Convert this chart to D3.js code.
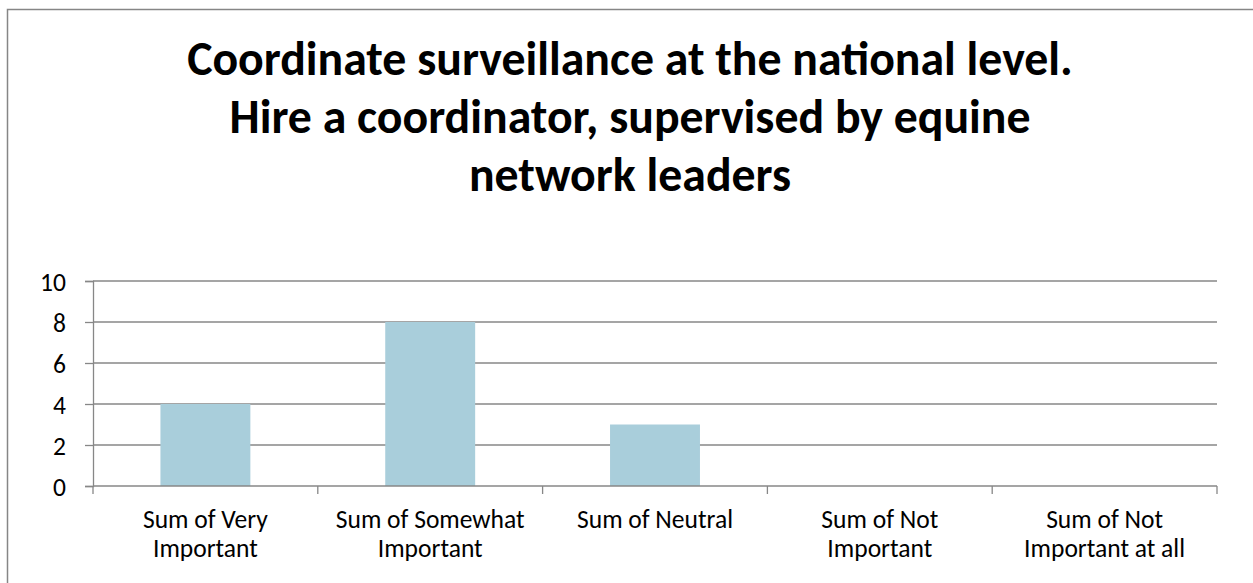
<!DOCTYPE html>
<html>
<head>
<meta charset="utf-8">
<script src="https://cdn.jsdelivr.net/npm/d3@7"></script>
<style>
  body { margin: 0; background: #fff; }
  text { font-family: Carlito, Lato, "Open Sans", sans-serif; }
</style>
</head>
<body>
<div id="chart"></div>
<script>
// chart data
var titleLines = ["Coordinate surveillance at the national level.",
                  "Hire a coordinator, supervised by equine",
                  "network leaders"];
var categories = [["Sum of Very", "Important"],
                  ["Sum of Somewhat", "Important"],
                  ["Sum of Neutral"],
                  ["Sum of Not", "Important"],
                  ["Sum of Not", "Important at all"]];
var values = [4, 8, 3, 0, 0];
var yTicks = [0, 2, 4, 6, 8, 10];

var svgWidth = 1253, svgHeight = 583;
var margin = { top: 281, right: 36, bottom: 97, left: 93 };
var chartWidth = svgWidth - margin.left - margin.right;
var chartHeight = svgHeight - margin.top - margin.bottom;

var svg = d3.select("#chart").append("svg")
    .attr("width", svgWidth)
    .attr("height", svgHeight);

// outer frame
svg.append("rect")
    .attr("x", 7.5).attr("y", 9.5)
    .attr("width", 1260).attr("height", 600)
    .attr("fill", "none")
    .attr("stroke", "#868686")
    .attr("stroke-width", 1.5);

// title
var title = svg.append("text")
    .attr("text-anchor", "middle")
    .attr("font-weight", "bold")
    .attr("font-size", 48)
    .attr("fill", "#000");
var baselines = [75, 133, 191];
titleLines.forEach(function(t, i) {
    title.append("tspan").attr("x", 630).attr("y", baselines[i]).text(t);
});
// fit first line to the reference width
var w0 = title.select("tspan").node().getComputedTextLength();
title.attr("font-size", 48 * 886 / w0);

// label size: fit "Sum of Very" to about 125px
var probe = svg.append("text").attr("font-size", 20).text(categories[0][0]);
var labelSize = 20 * 125 / probe.node().getComputedTextLength();
probe.remove();

var g = svg.append("g")
    .attr("transform", `translate(${margin.left}, ${margin.top})`);

var x = d3.scaleBand()
    .domain(d3.range(categories.length))
    .range([0, chartWidth])
    .paddingInner(0.6)
    .paddingOuter(0.3);

var y = d3.scaleLinear()
    .domain([0, 10])
    .range([chartHeight, 0]);

// gridlines
g.append("g").selectAll("line")
    .data(yTicks.slice(1))
    .enter().append("line")
    .attr("x1", 0).attr("x2", chartWidth)
    .attr("y1", d => y(d)).attr("y2", d => y(d))
    .attr("stroke", "#878787")
    .attr("stroke-width", 1.3);

// bars
g.append("g").selectAll("rect")
    .data(values)
    .enter().append("rect")
    .attr("x", (d, i) => x(i))
    .attr("y", d => y(d))
    .attr("width", x.bandwidth())
    .attr("height", d => chartHeight - y(d))
    .attr("fill", "#A9CEDB");

// y axis
var yAxis = d3.axisLeft(y).tickValues(yTicks).tickSize(8).tickPadding(19);
var yg = g.append("g").call(yAxis);
yg.select(".domain").attr("stroke", "#878787").attr("stroke-width", 1.3);
yg.selectAll(".tick line").attr("stroke", "#878787").attr("stroke-width", 1.3);
yg.selectAll(".tick text")
    .attr("font-size", labelSize)
    .attr("dy", "0.36em")
    .attr("fill", "#000")
    .style("font-family", "Carlito, Lato, 'Open Sans', sans-serif");

// x axis line with boundary ticks
var step = x.step();
var xg = g.append("g").attr("transform", `translate(0, ${chartHeight})`);
xg.append("line")
    .attr("x1", 0).attr("x2", chartWidth)
    .attr("stroke", "#878787").attr("stroke-width", 1.3);
xg.selectAll(".bt")
    .data(d3.range(categories.length + 1))
    .enter().append("line")
    .attr("class", "bt")
    .attr("x1", d => d * step).attr("x2", d => d * step)
    .attr("y1", 0).attr("y2", 8)
    .attr("stroke", "#878787").attr("stroke-width", 1.3);

// category labels
var labels = xg.selectAll(".lab")
    .data(categories)
    .enter().append("text")
    .attr("class", "lab")
    .attr("text-anchor", "middle")
    .attr("font-size", labelSize)
    .attr("fill", "#000");
labels.each(function(d, i) {
    var t = d3.select(this);
    d.forEach(function(line, j) {
        t.append("tspan")
            .attr("x", x(i) + x.bandwidth() / 2)
            .attr("y", 42 + j * 29)
            .text(line);
    });
});
</script>
</body>
</html>
